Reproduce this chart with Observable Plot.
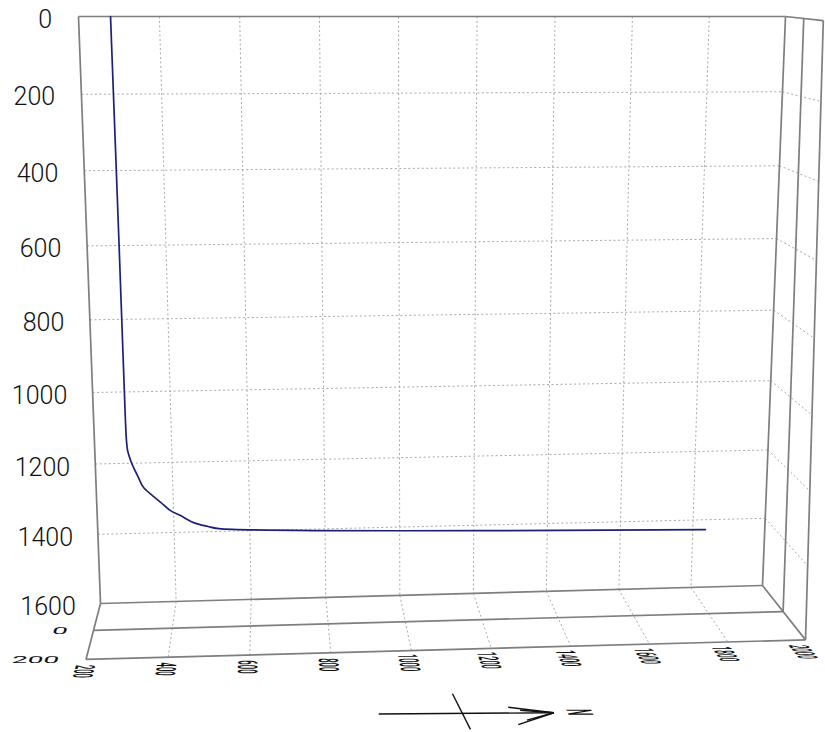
<!DOCTYPE html>
<html>
<head>
<meta charset="utf-8">
<script src="https://cdn.jsdelivr.net/npm/d3@7"></script>
<script src="https://cdn.jsdelivr.net/npm/@observablehq/plot@0.6"></script>
<style>
  html, body { margin: 0; padding: 0; background: #fff; }
  #chart svg { display: block; }
</style>
</head>
<body>
<div id="chart"></div>
<script>
// ---------------- data ----------------
const northTicks = [200, 400, 600, 800, 1000, 1200, 1400, 1600, 1800, 2000];
const depthTicks = [0, 200, 400, 600, 800, 1000, 1200, 1400, 1600];
const eastTicks = [-200, 0, 200];
const eastLabels = ["", "0", "200"];
const wellNorth = [279, 281, 282, 283, 285, 292, 299, 311, 323, 346, 367, 392, 418, 452, 489, 518, 1835];
const wellDepth = [0, 600, 1071, 1136, 1164, 1192, 1212, 1241, 1269, 1293, 1313, 1337, 1352, 1373, 1385, 1392, 1429];
const wellEast  = [-200, -200, -200, -200, -200, -200, -200, -200, -200, -200, -200, -200, -200, -200, -200, -200, -200];
// north arrow (drawn in the floor plane, in front of the box)
const arrowShaftNorth = [896, 1295];
const arrowShaftEast = [580, 600];
const arrowCrossNorth = [1075, 1095];
const arrowCrossEast = [476, 678];
const arrowHeadNorth = [1195, 1220, 1205, 1228];
const arrowHeadEast = [562, 581, 659, 636];
const arrowLabelNorth = 1352;

// ---------------- view (perspective camera settings) ----------------
const VIEW = {
  corners: [[78, 16], [785, 16], [762, 585], [100, 603]], // back plane TL, TR, BR, BL
  vanish: [267, -40],
  eastFactorTop: 0.034,
  eastFactorBottom: 0.040,
  labelNorth: 135
};
const nMin = northTicks[0], nMax = northTicks[northTicks.length - 1];
const dMin = depthTicks[0], dMax = depthTicks[depthTicks.length - 1];
const eMin = eastTicks[0], eMax = eastTicks[eastTicks.length - 1];

function quadMap(q) {
  const [[x0, y0], [x1, y1], [x2, y2], [x3, y3]] = q;
  const dx1 = x1 - x2, dx2 = x3 - x2, dx3 = x0 - x1 + x2 - x3;
  const dy1 = y1 - y2, dy2 = y3 - y2, dy3 = y0 - y1 + y2 - y3;
  const den = dx1 * dy2 - dx2 * dy1;
  const g = (dx3 * dy2 - dx2 * dy3) / den;
  const h = (dx1 * dy3 - dx3 * dy1) / den;
  const a = x1 - x0 + g * x1, b = x3 - x0 + h * x3, c = x0;
  const d = y1 - y0 + g * y1, e = y3 - y0 + h * y3, f = y0;
  return (s, t) => { const w = g * s + h * t + 1; return [(a * s + b * t + c) / w, (d * s + e * t + f) / w]; };
}
const wallMap = quadMap(VIEW.corners);
function project(n, d, e) {
  const s = (n - nMin) / (nMax - nMin), t = (d - dMin) / (dMax - dMin);
  const [bx, by] = wallMap(s, t);
  const f = VIEW.eastFactorTop + (VIEW.eastFactorBottom - VIEW.eastFactorTop) * t;
  const k = 1 / (1 - f * (e - eMin) / 200);
  return [VIEW.vanish[0] + (bx - VIEW.vanish[0]) * k, VIEW.vanish[1] + (by - VIEW.vanish[1]) * k];
}
const seg = (a, b) => { const p = project(...a), q = project(...b); return {x1: p[0], y1: p[1], x2: q[0], y2: q[1]}; };

const innerN = northTicks.slice(1, -1);
const innerD = depthTicks.slice(1, -1);
const frontE = eastTicks.slice(1);

const dotted = [
  ...innerN.map(n => seg([n, dMin, eMin], [n, dMax, eMin])),
  ...innerD.map(d => seg([nMin, d, eMin], [nMax, d, eMin])),
  ...innerD.map(d => seg([nMax, d, eMin], [nMax, d, eMax])),
  ...innerN.map(n => seg([n, dMax, eMin], [n, dMax, eMax]))
];
const solid = [
  seg([nMin, dMin, eMin], [nMax, dMin, eMin]),
  seg([nMin, dMax, eMin], [nMax, dMax, eMin]),
  seg([nMin, dMin, eMin], [nMin, dMax, eMin]),
  seg([nMax, dMin, eMin], [nMax, dMax, eMin]),
  seg([nMax, dMin, eMin], [nMax, dMin, eMax]),
  seg([nMax, dMax, eMin], [nMax, dMax, eMax]),
  ...frontE.map(e => seg([nMax, dMin, e], [nMax, dMax, e])),
  ...frontE.map(e => seg([nMin, dMax, e], [nMax, dMax, e])),
  seg([nMin, dMax, eMin], [nMin, dMax, eMax])
];
const well = wellNorth.map((n, i) => { const [x, y] = project(n, wellDepth[i], wellEast[i]); return {x, y}; });

const arrowTip = [arrowShaftNorth[1], dMax, arrowShaftEast[1]];
const arrow = [
  seg([arrowShaftNorth[0], dMax, arrowShaftEast[0]], arrowTip),
  seg([arrowCrossNorth[0], dMax, arrowCrossEast[0]], [arrowCrossNorth[1], dMax, arrowCrossEast[1]]),
  ...arrowHeadNorth.map((n, i) => seg([n, dMax, arrowHeadEast[i]], arrowTip))
];

const depthLabelData = depthTicks.map(d => { const [x, y] = project(VIEW.labelNorth, d, eMin); return {x, y, label: String(d)}; });
const northLabelData = northTicks.map(n => { const [x, y] = project(n, dMax, eMax); return {x, y, label: String(n)}; });
const eastLabelData = eastTicks.map((e, i) => { const [x, y] = project(VIEW.labelNorth, dMax, e); return {x, y, label: eastLabels[i]}; }).filter(d => d.label);
const arrowLabelData = [(() => { const [x, y] = project(arrowLabelNorth, dMax, arrowShaftEast[1]); return {x, y, label: "N"}; })()];

const FONT = "Roboto, 'DejaVu Sans', sans-serif";

const svg = Plot.plot({
  width: 825,
  height: 732,
  margin: 0,
  style: {background: "#fff", fontFamily: FONT, overflow: "visible"},
  x: {type: "linear", domain: [0, 825], range: [0, 825], axis: null},
  y: {type: "linear", domain: [0, 732], range: [0, 732], axis: null},
  marks: [
    Plot.link(dotted, {x1: "x1", y1: "y1", x2: "x2", y2: "y2", stroke: "#a9a9a9", strokeWidth: 1, strokeDasharray: "2,2.5"}),
    Plot.link(solid, {x1: "x1", y1: "y1", x2: "x2", y2: "y2", stroke: "#7e7e7e", strokeWidth: 1.7}),
    Plot.line(well, {x: "x", y: "y", stroke: "#1f1f7a", strokeWidth: 1.7, curve: "catmull-rom"}),
    Plot.link(arrow, {x1: "x1", y1: "y1", x2: "x2", y2: "y2", stroke: "#111", strokeWidth: 1.4}),
    Plot.text(depthLabelData, {x: "x", y: "y", text: "label", textAnchor: "end", dy: 3, fontSize: 25, fontWeight: 300, fill: "#111"}),
    Plot.text(northLabelData, {x: "x", y: "y", text: "label", textAnchor: "middle", lineAnchor: "middle", dx: -3, dy: 12, fontSize: 26, fontWeight: 500, fill: "#111", ariaLabel: () => "north-labels"}),
    Plot.text(eastLabelData, {x: "x", y: "y", text: "label", textAnchor: "end", lineAnchor: "middle", fontSize: 28, fontWeight: 400, fill: "#111", ariaLabel: () => "east-labels"}),
    Plot.text(arrowLabelData, {x: "x", y: "y", text: "label", textAnchor: "middle", lineAnchor: "middle", fontSize: 32, fontWeight: 500, fill: "#111", ariaLabel: () => "arrow-label"})
  ]
});

// perspective-flatten the labels that lie in the floor plane
function reshape(root, label, fn) {
  root.querySelectorAll(`g[aria-label="${label}"] text, text[aria-label="${label}"]`).forEach(t => {
    let x, y;
    const tr = t.getAttribute("transform") || "";
    const m = tr.match(/translate\(\s*([-+\d.eE]+)[\s,]+([-+\d.eE]+)\s*\)/);
    if (m) { x = +m[1]; y = +m[2]; }
    else {
      x = parseFloat(t.getAttribute("x")) || 0; y = parseFloat(t.getAttribute("y")) || 0;
      t.removeAttribute("x"); t.removeAttribute("y");
    }
    const [a, b, c, d] = fn(x, y);
    t.setAttribute("transform", `translate(${x},${y}) matrix(${a},${b},${c},${d},0,0)`);
  });
}
const dirFromVanish = (x, y) => { const dx = x - VIEW.vanish[0], dy = y - VIEW.vanish[1], L = Math.hypot(dx, dy); return [dx / L, dy / L]; };
reshape(svg, "north-labels", (x, y) => { const [ux, uy] = dirFromVanish(x, y); return [ux * 0.3, uy * 0.3, -1.05, 0]; });
reshape(svg, "arrow-label", (x, y) => { const [ux, uy] = dirFromVanish(x, y); return [ux * 0.3, uy * 0.3, -1.1, 0]; });
reshape(svg, "east-labels", (x, y) => { const [ux, uy] = dirFromVanish(x, y); return [1, 0, ux * 0.36, uy * 0.36]; });

document.getElementById("chart").append(svg);
</script>
</body>
</html>
